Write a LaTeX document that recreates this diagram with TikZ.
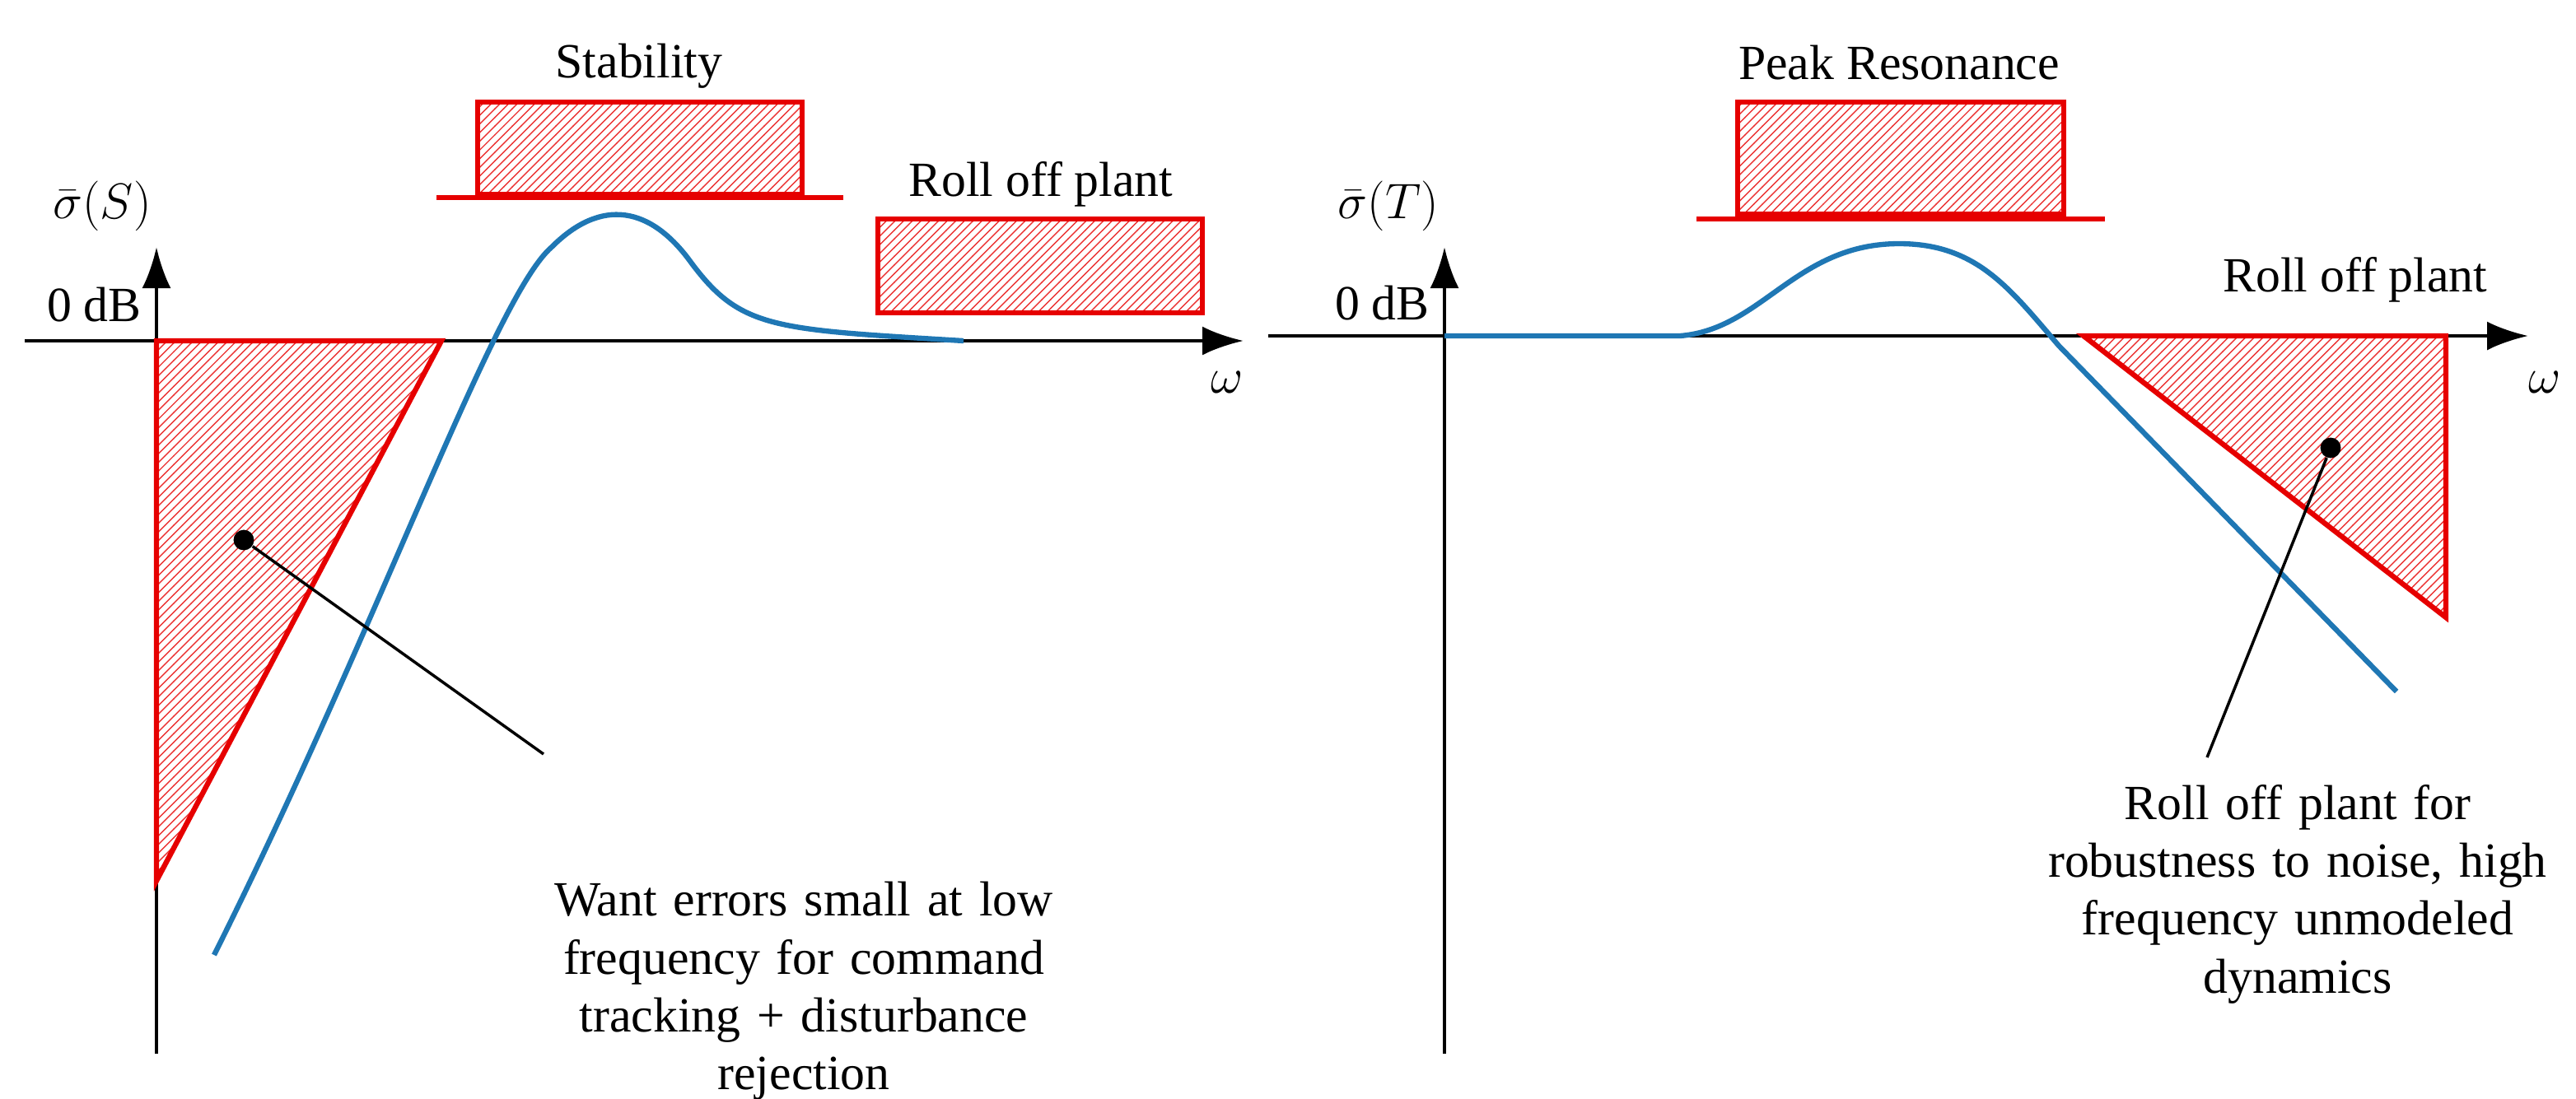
\documentclass[tikz,border=0pt]{standalone}
\usepackage{fontspec}
\setmainfont{Liberation Serif}
\usetikzlibrary{arrows.meta, patterns}
\definecolor{curveblue}{RGB}{31,119,180}
\definecolor{boundred}{RGB}{230,0,0}
\begin{document}
\begin{tikzpicture}[
     x = 0.02cm, y = -0.02cm,
axis/.style = {line width=1.3pt, -{Latex[length=5mm, width=3.5mm]}},
bound/.style = {draw=boundred, line width=1.8pt, pattern=north east lines, pattern color=boundred!80},
curve/.style = {curveblue, line width=1.8pt},
 lbl/.style = {font=\fontsize{17}{20}\selectfont},
note/.style = {lbl, align=center, text width=9cm},
 dot/.style = {circle, fill, inner sep=2.5pt}
                    ]
\useasboundingbox (0,0) rectangle (1564,667);
% left panel: sensitivity
\draw[axis] (15,207) -- (755,207) coordinate (wS);
\draw[axis] (95,640) -- (95,150) coordinate (sS);
\node[lbl, left]  (zeroS)  at (92,185) {0 dB};
\node[lbl]        (sigS)   at (62,125) {$\bar{\sigma}(S)$};
\node[lbl]        (omegaS) at (745,232) {$\omega$};
\draw[bound] (95,207) -- (268,207) -- (95,535) -- cycle;
\draw[bound] (290,62) rectangle (487,118);
\draw[boundred, line width=1.8pt] (265,120) -- (512,120);
\node[lbl] (stab) at (388,40) {Stability};
\draw[bound] (533,133) rectangle (730,190);
\node[lbl] (rollS) at (632,112) {Roll off plant};
\draw[curve] (130,580) .. controls (230,380) and (300,180) .. (335,150)
     .. controls (365,120) and (395,125) .. (420,160)
     .. controls (450,200) and (470,200) .. (585,207);
\node[dot] (dotS) at (148,328) {};
\node[note] (wantS) at (488,602) {Want errors small at low\\frequency for command\\tracking + disturbance\\rejection};
\coordinate (tipS) at (330,458);
\draw[line width=1pt] (dotS) -- (tipS);
% right panel: complementary sensitivity
\draw[axis] (770,204) -- (1535,204) coordinate (wT);
\draw[axis] (877,640) -- (877,150) coordinate (sT);
\node[lbl, left]  (zeroT)  at (874,184) {0 dB};
\node[lbl]        (sigT)   at (843,125) {$\bar{\sigma}(T)$};
\node[lbl]        (omegaT) at (1545,232) {$\omega$};
\draw[bound] (1055,62) rectangle (1253,130);
\draw[boundred, line width=1.8pt] (1030,133) -- (1278,133);
\node[lbl] (peak) at (1153,38) {Peak Resonance};
\draw[bound] (1265,204) -- (1485,204) -- (1485,375) -- cycle;
\node[lbl] (rollT) at (1430,170) {Roll off plant};
\draw[curve] (877,204) -- (1020,204)
     .. controls (1070,200) and (1090,148) .. (1153,148)
     .. controls (1200,148) and (1220,175) .. (1250,210)
     -- (1455,420);
\node[dot] (dotT) at (1415,272) {};
\node[note] (wantT) at (1395,543) {Roll off plant for\\robustness to noise, high\\frequency unmodeled\\dynamics};
\coordinate (tipT) at (1340,460);
\draw[line width=1pt] (dotT) -- (tipT);
\end{tikzpicture}
\end{document}
